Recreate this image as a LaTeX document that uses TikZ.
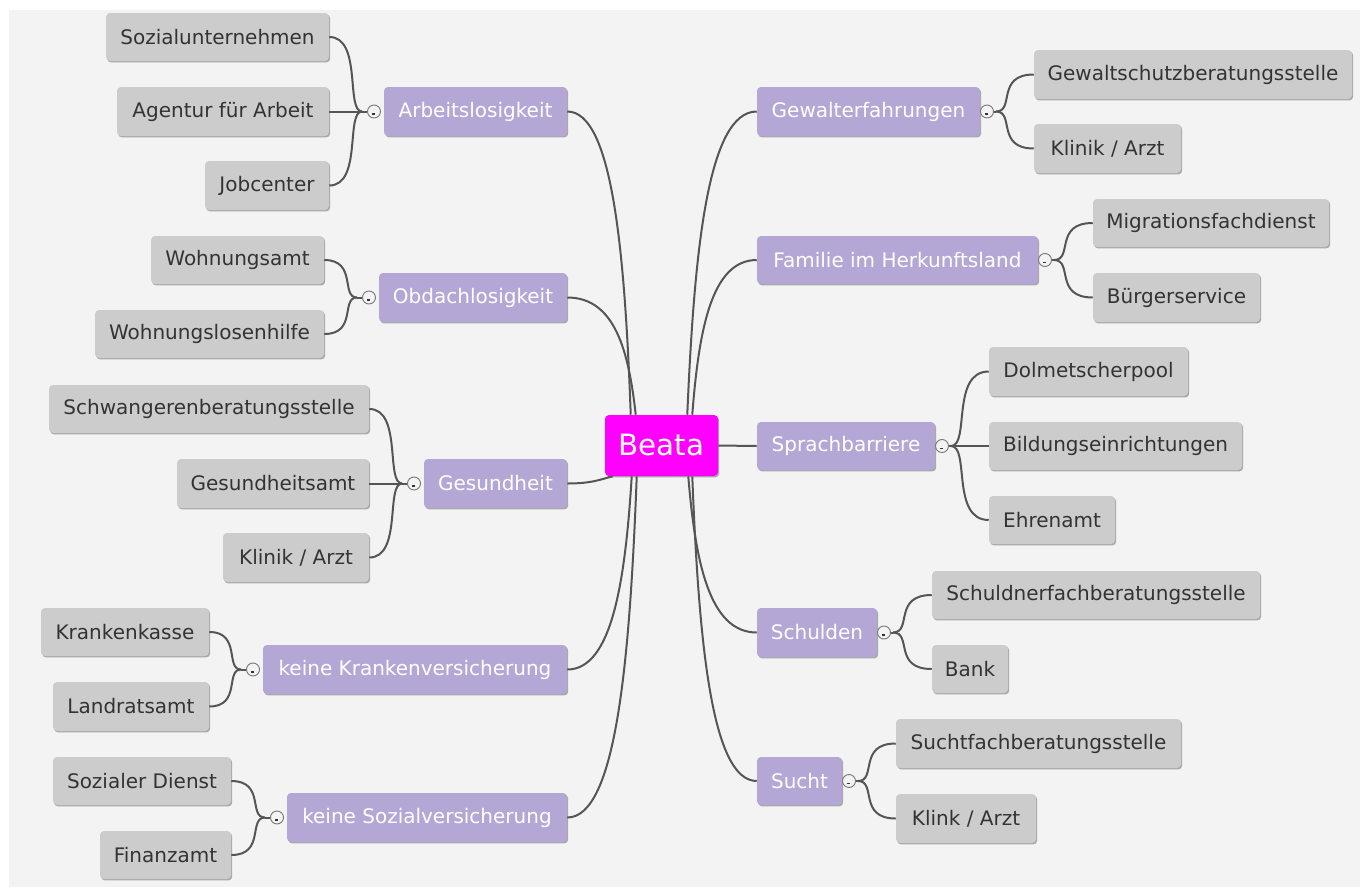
\documentclass[tikz,border=0pt]{standalone}
\usepackage{fontspec}
\setmainfont{DejaVu Sans}
\usetikzlibrary{calc,shadows}
\definecolor{bgpanel}{HTML}{F3F3F3}
\definecolor{boxgray}{HTML}{CCCCCC}
\definecolor{boxpurple}{HTML}{B4A7D6}
\definecolor{linegray}{HTML}{555555}
\definecolor{txtdark}{HTML}{333333}
\definecolor{rootmag}{HTML}{FF00FF}
\definecolor{togline}{HTML}{777777}
\newcommand\bx[7]{\node[#2, minimum width={(#4-#3)*0.75pt}, minimum height={(#6-#5)*0.75pt}] (#1) at ({(#3+#4)/2},{(#5+#6)/2}) {#7};}
\newcommand\togg[3]{\node[togglenode] (#1) at (#2,#3) {}; \draw[togdash] ($(#1)+(-2,2.5)$) -- ++(3,0);}
\tikzset{
  basebox/.style={rounded corners=3pt, inner sep=0pt, font=\fontsize{15pt}{18pt}\selectfont,
    drop shadow={shadow xshift=0.9pt, shadow yshift=-1.1pt, fill=black, opacity=0.3}},
  leaf/.style={basebox, fill=boxgray, text=txtdark},
  topic/.style={basebox, fill=boxpurple, text=white},
  root/.style={basebox, fill=rootmag, text=white, font=\fontsize{22pt}{26pt}\selectfont},
  link/.style={draw=linegray, line width=1.5pt},
  togglenode/.style={circle, draw=togline, fill=bgpanel, line width=0.7pt, minimum size=9.75pt, inner sep=0pt},
  togdash/.style={draw=black!80, line width=0.8pt}
}
\begin{document}
\begin{tikzpicture}[x=0.75pt, y=-0.75pt]
\useasboundingbox (0,0) rectangle (1360,890);
\fill[white] (0,0) rectangle (1360,890);
\fill[bgpanel] (9,10) rectangle (1360,887);

% root
\bx{beata}{root}{605}{718}{415}{476}{Beata}

% topics
\bx{arb}{topic}{384}{567}{87}{136}{Arbeitslosigkeit}
\bx{obd}{topic}{379}{567}{273}{322}{Obdachlosigkeit}
\bx{ges}{topic}{424}{567}{459}{508}{Gesundheit}
\bx{kkv}{topic}{263}{567}{645}{694}{keine Krankenversicherung}
\bx{ksv}{topic}{287}{567}{793}{842}{keine Sozialversicherung}
\bx{gew}{topic}{757}{980}{87}{136}{Gewalterfahrungen}
\bx{fam}{topic}{757}{1038}{236}{284}{Familie im Herkunftsland}
\bx{spr}{topic}{757}{935}{422}{470}{Sprachbarriere}
\bx{sch}{topic}{757}{877}{608}{657}{Schulden}
\bx{suc}{topic}{757}{842}{757}{805}{Sucht}

% leaves left
\bx{soz}{leaf}{106}{329}{13}{61}{Sozialunternehmen}
\bx{age}{leaf}{117}{329}{87}{136}{Agentur für Arbeit}
\bx{job}{leaf}{205}{329}{161}{210}{Jobcenter}
\bx{woh}{leaf}{151}{324}{236}{284}{Wohnungsamt}
\bx{wlh}{leaf}{95}{324}{310}{358}{Wohnungslosenhilfe}
\bx{sbs}{leaf}{49}{369}{385}{433}{Schwangerenberatungsstelle}
\bx{gsa}{leaf}{177}{369}{459}{508}{Gesundheitsamt}
\bx{kla}{leaf}{223}{369}{533}{582}{Klinik / Arzt}
\bx{kk}{leaf}{41}{209}{608}{656}{Krankenkasse}
\bx{lra}{leaf}{53}{209}{682}{731}{Landratsamt}
\bx{sd}{leaf}{53}{231}{757}{805}{Sozialer Dienst}
\bx{fa}{leaf}{100}{231}{831}{879}{Finanzamt}

% leaves right
\bx{gsb}{leaf}{1034}{1352}{50}{99}{Gewaltschutzberatungsstelle}
\bx{kl1}{leaf}{1034}{1181}{124}{173}{Klinik / Arzt}
\bx{mfd}{leaf}{1093}{1329}{199}{247}{Migrationsfachdienst}
\bx{bs}{leaf}{1093}{1260}{273}{322}{Bürgerservice}
\bx{dp}{leaf}{989}{1188}{347}{396}{Dolmetscherpool}
\bx{be}{leaf}{989}{1242}{422}{470}{Bildungseinrichtungen}
\bx{eh}{leaf}{989}{1115}{496}{544}{Ehrenamt}
\bx{sfb}{leaf}{932}{1260}{571}{619}{Schuldnerfachberatungsstelle}
\bx{bank}{leaf}{932}{1008}{645}{693}{Bank}
\bx{sub}{leaf}{896}{1181}{719}{768}{Suchtfachberatungsstelle}
\bx{ka}{leaf}{896}{1036}{794}{843}{Klink / Arzt}

% toggles
\togg{arbT}{374}{111.5}
\togg{obdT}{369}{297.5}
\togg{gesT}{414}{483.5}
\togg{kkvT}{253}{669.5}
\togg{ksvT}{277}{817.5}
\togg{gewT}{987}{111.5}
\togg{famT}{1045}{260}
\togg{sprT}{942}{446}
\togg{schT}{884}{632.5}
\togg{sucT}{849}{781}

% junctions
\coordinate (arbJ) at (362,111.5);
\coordinate (obdJ) at (357,297.5);
\coordinate (gesJ) at (402,483.5);
\coordinate (kkvJ) at (241,669.5);
\coordinate (ksvJ) at (265,817.5);
\coordinate (gewJ) at (996,111.5);
\coordinate (famJ) at (1054,260);
\coordinate (sprJ) at (951,446);
\coordinate (schJ) at (893,632.5);
\coordinate (sucJ) at (858,781);

% main branches
\draw[link] (arb.east) .. controls +(45,0) and +(-6,-164) .. ($(beata.north west)+(26,0)$);
\draw[link] (obd.east) .. controls +(48,0) and +(-7,-63) .. ($(beata.north west)+(31,0)$);
\draw[link] (ges.east) .. controls +(25,0) and +(-12,3) .. ($(beata.south west)+(8,0)$);
\draw[link] (kkv.east) .. controls +(45,0) and +(-6.5,104) .. ($(beata.south west)+(27,0)$);
\draw[link] (ksv.east) .. controls +(49,0) and +(-7,184) .. ($(beata.south west)+(32,0)$);
\draw[link] (gew.west) .. controls +(-49,0) and +(7,-164) .. ($(beata.north east)+(-31,0)$);
\draw[link] (fam.west) .. controls +(-45.5,0) and +(6.5,-84) .. ($(beata.north east)+(-26,0)$);
\draw[link] (beata.east) -- (spr.west);
\draw[link] (sch.west) .. controls +(-48,0) and +(7,84) .. ($(beata.south east)+(-30,0)$);
\draw[link] (suc.west) .. controls +(-45.5,0) and +(6.5,164) .. ($(beata.south east)+(-26,0)$);

% toggle to junction
\foreach \t in {arb,obd,ges,kkv,ksv}{\draw[link] (\t T.west) -- (\t J);}
\foreach \t in {gew,fam,spr,sch,suc}{\draw[link] (\t T.east) -- (\t J);}

% left children
\draw[link] (arbJ) .. controls +(-16.5,0) and +(33,0) .. (soz.east);
\draw[link] (arbJ) -- (age.east);
\draw[link] (arbJ) .. controls +(-16.5,0) and +(33,0) .. (job.east);
\draw[link] (obdJ) .. controls +(-16.5,0) and +(33,0) .. (woh.east);
\draw[link] (obdJ) .. controls +(-16.5,0) and +(33,0) .. (wlh.east);
\draw[link] (gesJ) .. controls +(-16.5,0) and +(33,0) .. (sbs.east);
\draw[link] (gesJ) -- (gsa.east);
\draw[link] (gesJ) .. controls +(-16.5,0) and +(33,0) .. (kla.east);
\draw[link] (kkvJ) .. controls +(-16,0) and +(32,0) .. (kk.east);
\draw[link] (kkvJ) .. controls +(-16,0) and +(32,0) .. (lra.east);
\draw[link] (ksvJ) .. controls +(-17,0) and +(34,0) .. (sd.east);
\draw[link] (ksvJ) .. controls +(-17,0) and +(34,0) .. (fa.east);

% right children
\draw[link] (gewJ) .. controls +(19,0) and +(-38,0) .. (gsb.west);
\draw[link] (gewJ) .. controls +(19,0) and +(-38,0) .. (kl1.west);
\draw[link] (famJ) .. controls +(19.5,0) and +(-39,0) .. (mfd.west);
\draw[link] (famJ) .. controls +(19.5,0) and +(-39,0) .. (bs.west);
\draw[link] (sprJ) .. controls +(19,0) and +(-38,0) .. (dp.west);
\draw[link] (sprJ) -- (be.west);
\draw[link] (sprJ) .. controls +(19,0) and +(-38,0) .. (eh.west);
\draw[link] (schJ) .. controls +(19.5,0) and +(-39,0) .. (sfb.west);
\draw[link] (schJ) .. controls +(19.5,0) and +(-39,0) .. (bank.west);
\draw[link] (sucJ) .. controls +(19,0) and +(-38,0) .. (sub.west);
\draw[link] (sucJ) .. controls +(19,0) and +(-38,0) .. (ka.west);
\end{tikzpicture}
\end{document}
